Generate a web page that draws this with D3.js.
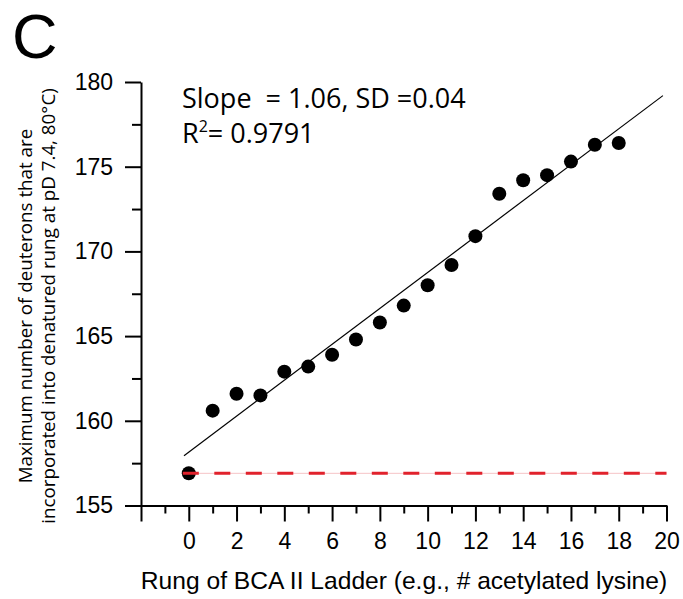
<!DOCTYPE html>
<html>
<head>
<meta charset="utf-8">
<script src="https://cdn.jsdelivr.net/npm/d3@7"></script>
<style>
  html, body { margin: 0; padding: 0; background: #fff; }
  svg { display: block; }
  .tick text { font-family: "Liberation Sans", Arial, sans-serif; fill: #000; }
  .stat { white-space: pre; }
</style>
</head>
<body>
<svg id="chart" width="683" height="599"></svg>
<script>
// Rung of the BCA II charge ladder (number of acetylated lysines)
const rungs = [0, 1, 2, 3, 4, 5, 6, 7, 8, 9, 10, 11, 12, 13, 14, 15, 16, 17, 18];
// Maximum number of deuterons incorporated into each denatured rung
const deuterons = [156.9, 160.6, 161.6, 161.5, 162.9, 163.2, 163.9, 164.8, 165.8, 166.8,
                   168.0, 169.2, 170.9, 173.4, 174.2, 174.5, 175.3, 176.3, 176.4];

// Linear fit statistics
const fitSlope = 1.06;
const fitRange = [-0.2, 19.85];
// Reference level: deuterons of the unmodified protein (rung 0)
const referenceRange = [-0.25, 20];
const referenceLevel = deuterons[0];

// Axis ticks
const xMajorTicks = [-2, 0, 2, 4, 6, 8, 10, 12, 14, 16, 18, 20];
const xMinorTicks = [-1, 1, 3, 5, 7, 9, 11, 13, 15, 17, 19];
const yMajorTicks = [155, 160, 165, 170, 175, 180];
const yMinorTicks = [157.5, 162.5, 167.5, 172.5, 177.5];

const panelLabel = "C";
const xTitle = "Rung of BCA II Ladder (e.g., # acetylated lysine)";
const yTitleLines = ["Maximum number of deuterons that are",
                     "incorporated into denatured rung at pD 7.4, 80\u00B0C)"];
const statLines = ["Slope  = 1.06, SD =0.04", "0.9791"];

const svg = d3.select("#chart");

const x = d3.scaleLinear().domain([-2, 20]).range([141, 666.5]);
const y = d3.scaleLinear().domain([155, 180]).range([505.5, 82]);

// Intercept of the fit line with the stated slope through the data centroid
const meanX = d3.mean(rungs), meanY = d3.mean(deuterons);
const fitIntercept = meanY - fitSlope * meanX;

const axisColor = "#000";

// ---- x axis ----
const xAxisG = svg.append("g").attr("transform", `translate(0,${y(155)})`);
xAxisG.call(d3.axisBottom(x).tickValues(xMajorTicks).tickSize(16).tickSizeOuter(0)
  .tickPadding(10).tickFormat(d => d < 0 ? "" : d));
svg.append("g").attr("transform", `translate(0,${y(155)})`)
  .call(d3.axisBottom(x).tickValues(xMinorTicks).tickSize(8).tickFormat(""))
  .call(g => g.select(".domain").remove());

// ---- y axis ----
const yAxisG = svg.append("g").attr("transform", `translate(${x(-2)},0)`);
yAxisG.call(d3.axisLeft(y).tickValues(yMajorTicks).tickSize(16).tickSizeOuter(0)
  .tickPadding(12));
svg.append("g").attr("transform", `translate(${x(-2)},0)`)
  .call(d3.axisLeft(y).tickValues(yMinorTicks).tickSize(9).tickFormat(""))
  .call(g => g.select(".domain").remove());

svg.selectAll(".domain, .tick line")
  .attr("stroke", axisColor).attr("stroke-width", 2);
xAxisG.selectAll(".tick text").attr("font-size", 23).attr("dy", "0.75em");
yAxisG.selectAll(".tick text").attr("font-size", 23);

// ---- reference level (dashed red) ----
const refLine = d3.line().x(d => x(d)).y(() => y(referenceLevel));
svg.append("path")
  .attr("d", refLine(referenceRange))
  .attr("fill", "none").attr("stroke", "#f6c3c6").attr("stroke-width", 1);

// ---- fit line ----
const fitLine = d3.line().x(d => x(d)).y(d => y(fitIntercept + fitSlope * d));
svg.append("path")
  .attr("d", fitLine(fitRange))
  .attr("fill", "none").attr("stroke", "#000").attr("stroke-width", 1.2);

// ---- data points ----
svg.append("g").selectAll("circle")
  .data(rungs)
  .join("circle")
  .attr("cx", d => x(d))
  .attr("cy", (d, i) => y(deuterons[i]))
  .attr("r", 7)
  .attr("fill", "#000");

svg.append("path")
  .attr("d", refLine(referenceRange))
  .attr("fill", "none").attr("stroke", "#e1222c").attr("stroke-width", 3)
  .attr("stroke-dasharray", "16,15.5");

// ---- fit statistics ----
const statFont = '"Open Sans", "Noto Sans", sans-serif';
svg.append("text")
  .attr("class", "stat")
  .attr("x", 182).attr("y", 108)
  .attr("font-family", statFont).attr("font-size", 27)
  .text(statLines[0]);
const r2 = svg.append("text")
  .attr("class", "stat")
  .attr("x", 182).attr("y", 143)
  .attr("font-family", statFont).attr("font-size", 27);
r2.append("tspan").text("R");
r2.append("tspan").attr("font-size", 16).attr("dy", -11).text("2");
r2.append("tspan").attr("dy", 11).text("= " + statLines[1]);

// ---- axis titles ----
svg.append("text")
  .attr("x", 404).attr("y", 589)
  .attr("text-anchor", "middle")
  .attr("font-family", '"Liberation Sans", Arial, sans-serif')
  .attr("font-size", 24.6)
  .text(xTitle);

const yTitle = svg.append("text")
  .attr("transform", "translate(25,306) rotate(-90)")
  .attr("text-anchor", "middle")
  .attr("font-family", statFont)
  .attr("font-size", 18.8);
yTitleLines.forEach((line, i) => {
  yTitle.append("tspan").attr("x", 0).attr("dy", i === 0 ? "0.35em" : 23).text(line);
});

// ---- panel label ----
svg.append("text")
  .attr("x", 12).attr("y", 58)
  .attr("font-family", '"Liberation Sans", Arial, sans-serif')
  .attr("font-size", 63)
  .text(panelLabel);
</script>
</body>
</html>
